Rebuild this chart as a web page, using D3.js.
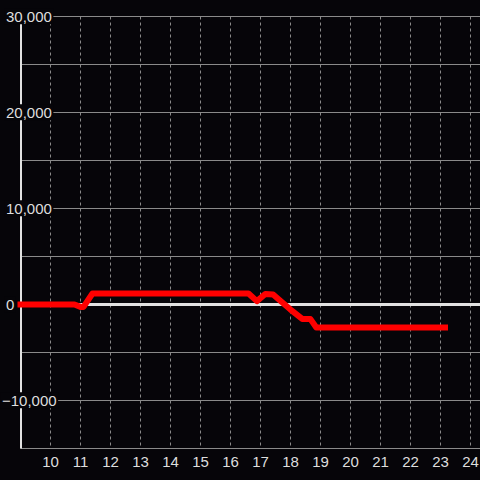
<!DOCTYPE html>
<html>
<head>
<meta charset="utf-8">
<script src="https://cdn.jsdelivr.net/npm/d3@7"></script>
<style>
  html, body { margin: 0; padding: 0; background: #060509; }
  svg { display: block; }
</style>
</head>
<body>
<svg id="chart" width="480" height="480"></svg>
<script>
// ---- data ----
const hours  = [9, 10.8, 11.0, 11.1, 11.4, 16.6, 16.88, 17.16, 17.42, 17.66, 17.99, 18.39, 18.66, 18.86, 23.15];
const values = [0, 0, -250, -250, 1150, 1150, 350, 1100, 1050, 400, -500, -1500, -1500, -2400, -2400];
const xTicks = [10, 11, 12, 13, 14, 15, 16, 17, 18, 19, 20, 21, 22, 23, 24];
const yTicks = [30000, 20000, 10000, 0, -10000];
const yGrid  = [30000, 25000, 20000, 15000, 10000, 5000, 0, -5000, -10000, -15000];
const xDomain = [9, 24.3333];
const yDomain = [-15000, 30000];

const W = 480, H = 480;
const bg = "#060509";
const svg = d3.select("#chart");
svg.append("rect").attr("width", W).attr("height", H).attr("fill", bg);

const x = d3.scaleLinear().domain(xDomain).range([20.5, 480.5]);
const y = d3.scaleLinear().domain(yDomain).range([448.5, 16.5]);

// horizontal grid lines
svg.append("g").selectAll("line").data(yGrid.filter(v => v !== 0)).join("line")
  .attr("x1", x(9)).attr("x2", W)
  .attr("y1", d => y(d)).attr("y2", d => y(d))
  .attr("stroke", "#8a8a8a").attr("stroke-width", 1);

// vertical dashed grid lines
svg.append("g").selectAll("line").data(xTicks).join("line")
  .attr("x1", d => x(d)).attr("x2", d => x(d))
  .attr("y1", y(30000)).attr("y2", y(-15000))
  .attr("stroke", "#8a8a8a").attr("stroke-width", 1)
  .attr("stroke-dasharray", "3,3");

// zero line
svg.append("line")
  .attr("x1", x(9)).attr("x2", W)
  .attr("y1", y(0)).attr("y2", y(0))
  .attr("stroke", "#e2e2e2").attr("stroke-width", 3);

// y axis line
svg.append("line")
  .attr("x1", 21).attr("x2", 21)
  .attr("y1", y(30000)).attr("y2", y(-15000))
  .attr("stroke", "#e2e2e2").attr("stroke-width", 2);

// y labels with background boxes
const fmt = d3.format(",");
const yl = svg.append("g");
yTicks.forEach(v => {
  const g = yl.append("g");
  const t = g.append("text")
    .attr("x", v < 0 ? 2 : 6)
    .attr("y", y(v))
    .attr("dy", "0.35em")
    .attr("font-family", "'Liberation Sans', Arial, sans-serif")
    .attr("font-size", 15)
    .attr("fill", "#dedede")
    .text(fmt(v));
  const b = t.node().getBBox();
  g.insert("rect", "text")
    .attr("x", b.x - 1.5).attr("y", b.y + 0.5)
    .attr("width", b.width + 3).attr("height", b.height - 1)
    .attr("fill", bg);
});

// x labels
svg.append("g").selectAll("text").data(xTicks).join("text")
  .attr("x", d => x(d))
  .attr("y", 466.5)
  .attr("text-anchor", "middle")
  .attr("font-family", "'Liberation Sans', Arial, sans-serif")
  .attr("font-size", 15)
  .attr("fill", "#dedede")
  .text(d => d);

// data line
const line = d3.line()
  .x((d, i) => x(hours[i]))
  .y((d, i) => y(values[i]))
  .curve(d3.curveLinear);
svg.append("path")
  .datum(values)
  .attr("d", line)
  .attr("fill", "none")
  .attr("stroke", "#ff0000")
  .attr("stroke-width", 6)
  .attr("stroke-linejoin", "round")
  .attr("stroke-linecap", "square");
</script>
</body>
</html>
